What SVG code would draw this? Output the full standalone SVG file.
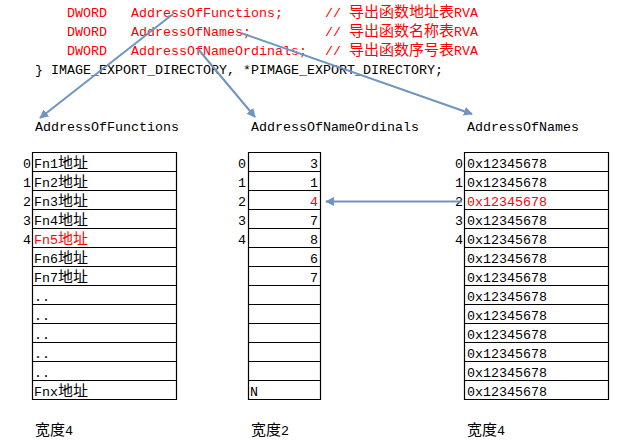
<svg xmlns="http://www.w3.org/2000/svg" width="638" height="442" viewBox="0 0 638 442">
<style>
text{font-family:"Liberation Mono","Noto Sans CJK SC",monospace;font-size:13.33px;fill:#000}
.r{fill:#ff0000}
.c{font-size:15px}
.e{text-anchor:end}
.grid{fill:none;stroke:#000;stroke-width:1.2}
.conn{fill:none;stroke:#6f94c2;stroke-width:2}
</style>
<defs>
<marker id="ah" viewBox="0 0 10 10" refX="9" refY="5" markerWidth="4.5" markerHeight="4.5" orient="auto" markerUnits="strokeWidth">
<path d="M0,0 L10,5 L0,10 z" fill="#6f94c2"/>
</marker>
</defs>
<rect width="638" height="442" fill="#fff"/>
<g id="code">
<text class="r" x="67" y="17">DWORD</text><text class="r" x="131" y="17">AddressOfFunctions;</text><text class="r" x="325" y="17">// <tspan class="c">导出函数地址表</tspan>RVA</text>
<text class="r" x="67" y="36">DWORD</text><text class="r" x="131" y="36">AddressOfNames;</text><text class="r" x="325" y="36">// <tspan class="c">导出函数名称表</tspan>RVA</text>
<text class="r" x="67" y="54.5">DWORD</text><text class="r" x="131" y="54.5">AddressOfNameOrdinals;</text><text class="r" x="325" y="54.5">// <tspan class="c">导出函数序号表</tspan>RVA</text>
<text x="35" y="73.5">} IMAGE_EXPORT_DIRECTORY, *PIMAGE_EXPORT_DIRECTORY;</text>
</g>
<g id="functions">
<text x="35" y="131">AddressOfFunctions</text>
<path class="grid" d="M32.5,152.5H176.5V399.5H32.5Z M32.5,171.5H176.5 M32.5,190.5H176.5 M32.5,209.5H176.5 M32.5,228.5H176.5 M32.5,247.5H176.5 M32.5,266.5H176.5 M32.5,285.5H176.5 M32.5,304.5H176.5 M32.5,323.5H176.5 M32.5,342.5H176.5 M32.5,361.5H176.5 M32.5,380.5H176.5"/>
<text class="e" x="31" y="168">0</text><text class="e" x="31" y="187">1</text><text class="e" x="31" y="206">2</text><text class="e" x="31" y="225">3</text><text class="e" x="31" y="244">4</text>
<text x="34" y="168">Fn1<tspan class="c">地址</tspan></text>
<text x="34" y="187">Fn2<tspan class="c">地址</tspan></text>
<text x="34" y="206">Fn3<tspan class="c">地址</tspan></text>
<text x="34" y="225">Fn4<tspan class="c">地址</tspan></text>
<text class="r" x="34" y="244">Fn5<tspan class="c">地址</tspan></text>
<text x="34" y="263">Fn6<tspan class="c">地址</tspan></text>
<text x="34" y="282">Fn7<tspan class="c">地址</tspan></text>
<text x="34" y="301">..</text><text x="34" y="320">..</text><text x="34" y="339">..</text><text x="34" y="358">..</text><text x="34" y="377">..</text>
<text x="34" y="396">Fnx<tspan class="c">地址</tspan></text>
<text x="35" y="435"><tspan class="c">宽度</tspan>4</text>
</g>
<g id="ordinals">
<text x="251" y="131">AddressOfNameOrdinals</text>
<path class="grid" d="M248.5,152.5H320.5V399.5H248.5Z M248.5,171.5H320.5 M248.5,190.5H320.5 M248.5,209.5H320.5 M248.5,228.5H320.5 M248.5,247.5H320.5 M248.5,266.5H320.5 M248.5,285.5H320.5 M248.5,304.5H320.5 M248.5,323.5H320.5 M248.5,342.5H320.5 M248.5,361.5H320.5 M248.5,380.5H320.5"/>
<text class="e" x="246" y="168">0</text><text class="e" x="246" y="187">1</text><text class="e" x="246" y="206">2</text><text class="e" x="246" y="225">3</text><text class="e" x="246" y="244">4</text>
<text class="e" x="318" y="168">3</text>
<text class="e" x="318" y="187">1</text>
<text class="e r" x="318" y="206">4</text>
<text class="e" x="318" y="225">7</text>
<text class="e" x="318" y="244">8</text>
<text class="e" x="318" y="263">6</text>
<text class="e" x="318" y="282">7</text>
<text x="250" y="396">N</text>
<text x="251" y="435"><tspan class="c">宽度</tspan>2</text>
</g>
<g id="names">
<text x="467" y="131">AddressOfNames</text>
<path class="grid" d="M464.5,152.5H608.5V399.5H464.5Z M464.5,171.5H608.5 M464.5,190.5H608.5 M464.5,209.5H608.5 M464.5,228.5H608.5 M464.5,247.5H608.5 M464.5,266.5H608.5 M464.5,285.5H608.5 M464.5,304.5H608.5 M464.5,323.5H608.5 M464.5,342.5H608.5 M464.5,361.5H608.5 M464.5,380.5H608.5"/>
<text class="e" x="463" y="168">0</text><text class="e" x="463" y="187">1</text><text class="e" x="463" y="206">2</text><text class="e" x="463" y="225">3</text><text class="e" x="463" y="244">4</text>
<text x="467" y="168">0x12345678</text>
<text x="467" y="187">0x12345678</text>
<text class="r" x="467" y="206">0x12345678</text>
<text x="467" y="225">0x12345678</text>
<text x="467" y="244">0x12345678</text>
<text x="467" y="263">0x12345678</text>
<text x="467" y="282">0x12345678</text>
<text x="467" y="301">0x12345678</text>
<text x="467" y="320">0x12345678</text>
<text x="467" y="339">0x12345678</text>
<text x="467" y="358">0x12345678</text>
<text x="467" y="377">0x12345678</text>
<text x="467" y="396">0x12345678</text>
<text x="467" y="435"><tspan class="c">宽度</tspan>4</text>
</g>
<g id="connectors">
<path class="conn" d="M173,14 L40,118" marker-end="url(#ah)"/>
<path class="conn" d="M198,49 L255,117" marker-end="url(#ah)"/>
<path class="conn" d="M241,33 L472,114" marker-end="url(#ah)"/>
<path class="conn" d="M462,201.5 L326,201.5" marker-end="url(#ah)"/>
</g>
</svg>
